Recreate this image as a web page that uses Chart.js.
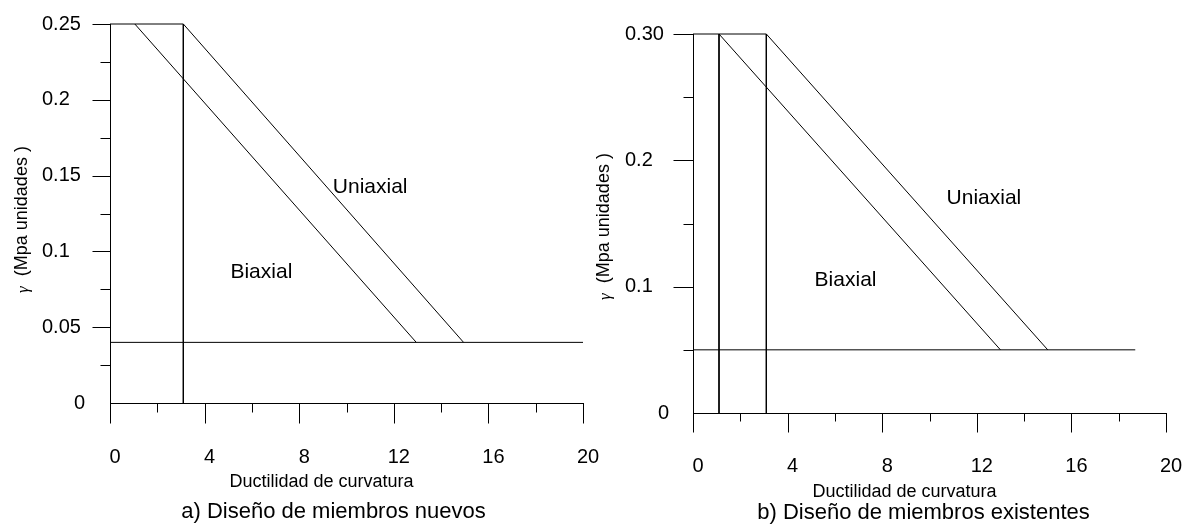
<!DOCTYPE html>
<html>
<head>
<meta charset="utf-8">
<script src="https://cdn.jsdelivr.net/npm/chart.js@4.4.0/dist/chart.umd.min.js"></script>
<style>
  body { margin: 0; background: #fff; width: 1187px; height: 527px; overflow: hidden; position: relative; }
  canvas { position: absolute; top: 0; }
</style>
</head>
<body>
<canvas id="chartA" width="600" height="527" style="left:0"></canvas>
<canvas id="chartB" width="600" height="527" style="left:587px"></canvas>
<script>
// shared x axis
const xTickValues = [0, 4, 8, 12, 16, 20];
const xTickLabels = ['0', '4', '8', '12', '16', '20'];
const xMinorValues = [2, 6, 10, 14, 18];
const xTitle = 'Ductilidad de curvatura';
const yTitleSymbol = 'γ';
const yTitleText = '  (Mpa unidades )';

// a) Diseño de miembros nuevos
const aYLabels = ['0', '0.05', '0.1', '0.15', '0.2', '0.25'];
const aYMajor = [0.05, 0.1, 0.15, 0.2, 0.25];
const aYMinor = [0.025, 0.075, 0.125, 0.175, 0.225];
const aTop = [[0, 0.25], [3.1, 0.25]];
const aVertical = [[3.1, 0.25], [3.1, 0]];
const aBiaxial = [[1.05, 0.25], [12.95, 0.04]];
const aUniaxial = [[3.1, 0.25], [14.95, 0.04]];
const aBase = [[0, 0.04], [20, 0.04]];
const aNotes = [['Biaxial', 6.4, 0.086], ['Uniaxial', 11.0, 0.1425]];

// b) Diseño de miembros existentes
const bYLabels = ['0', '0.1', '0.2', '0.30'];
const bYMajor = [0.1, 0.2, 0.3];
const bYMinor = [0.05, 0.15, 0.25];
const bTop = [[0, 0.3], [3.1, 0.3]];
const bVertical1 = [[1.1, 0.3], [1.1, 0]];
const bVertical2 = [[3.1, 0.3], [3.1, 0]];
const bBiaxial = [[1.1, 0.3], [13.0, 0.05]];
const bUniaxial = [[3.1, 0.3], [15.0, 0.05]];
const bBase = [[0, 0.05], [18.7, 0.05]];
const bNotes = [['Biaxial', 6.45, 0.105], ['Uniaxial', 12.3, 0.17]];

const FONT = '"Liberation Sans", Arial, sans-serif';

// tick marks, notes and titles drawn from the chart's scales
const sketchPlugin = {
  id: 'sketch',
  afterDraw(chart, args, o) {
    const { ctx, chartArea: a, scales: { x, y } } = chart;
    const px = v => Math.round(x.getPixelForValue(v)) + 0.5;
    const py = v => Math.round(y.getPixelForValue(v)) + 0.5;
    ctx.save();
    ctx.strokeStyle = '#000';
    ctx.lineWidth = 1;
    ctx.beginPath();
    const bottom = Math.round(a.bottom) + 0.5;
    const left = Math.round(a.left) + 0.5;
    o.xMajor.forEach(v => { ctx.moveTo(px(v), bottom); ctx.lineTo(px(v), bottom + o.len[0]); });
    o.xMinor.forEach(v => { ctx.moveTo(px(v), bottom); ctx.lineTo(px(v), bottom + o.len[1]); });
    o.yMajor.forEach(v => { ctx.moveTo(left, py(v)); ctx.lineTo(left - o.len[2], py(v)); });
    o.yMinor.forEach(v => { ctx.moveTo(left, py(v)); ctx.lineTo(left - o.len[3], py(v)); });
    ctx.stroke();

    ctx.fillStyle = '#000';
    ctx.textBaseline = 'middle';
    // the "0" label sits flush right, unlike the others
    ctx.textAlign = 'right';
    ctx.font = '20px ' + FONT;
    ctx.fillText(o.zeroLabel, a.left - o.zeroGap, y.getPixelForValue(0));

    ctx.textAlign = 'center';
    ctx.font = '21px ' + FONT;
    o.notes.forEach(([t, vx, vy]) => ctx.fillText(t, x.getPixelForValue(vx), y.getPixelForValue(vy)));

    const midX = (a.left + a.right) / 2;
    const midY = (a.top + a.bottom) / 2;
    ctx.font = '18px ' + FONT;
    ctx.fillText(xTitle, midX + o.xTitle[0], a.bottom + o.xTitle[1]);
    ctx.font = '22px ' + FONT;
    ctx.fillText(o.caption, midX + o.capPos[0], a.bottom + o.capPos[1]);

    ctx.save();
    ctx.translate(a.left + o.yTitle[0], midY + o.yTitle[1]);
    ctx.rotate(-Math.PI / 2);
    ctx.textAlign = 'left';
    const symFont = 'italic 17px "Liberation Serif", serif';
    const txtFont = '18px ' + FONT;
    ctx.font = symFont;
    const w1 = ctx.measureText(yTitleSymbol).width;
    ctx.font = txtFont;
    const w2 = ctx.measureText(yTitleText).width;
    const start = -(w1 + w2) / 2;
    ctx.font = symFont;
    ctx.fillText(yTitleSymbol, start, 2);
    ctx.font = txtFont;
    ctx.fillText(yTitleText, start + w1, 0);
    ctx.restore();
    ctx.restore();
  }
};

function makeChart(id, c) {
  return new Chart(document.getElementById(id), {
    type: 'scatter',
    data: {
      datasets: c.lines.map(l => ({
        data: l.map(([x, y]) => ({ x, y })),
        showLine: true,
        borderColor: '#000',
        borderWidth: 1,
        pointRadius: 0,
        clip: false
      }))
    },
    options: {
      responsive: false,
      animation: false,
      devicePixelRatio: 1,
      layout: { padding: c.padding },
      plugins: {
        legend: { display: false },
        tooltip: { enabled: false },
        sketch: c.sketch
      },
      scales: {
        x: {
          type: 'linear', min: 0, max: 20,
          afterFit: s => { s.height = c.xHeight; },
          // invisible tick marks only push the labels down
          grid: { display: true, drawOnChartArea: false, color: 'rgba(0,0,0,0)', tickColor: 'rgba(0,0,0,0)', tickLength: c.xGap },
          border: { display: true, color: '#000', width: 1 },
          ticks: {
            stepSize: 4, padding: 0, labelOffset: 5, color: '#000',
            font: { family: FONT, size: 20 },
            callback: (v, i) => xTickLabels[i]
          }
        },
        y: {
          type: 'linear', min: 0, max: c.yMax,
          afterFit: s => { s.width = c.yWidth; },
          grid: { display: false, drawTicks: false },
          border: { display: true, color: '#000', width: 1 },
          ticks: {
            stepSize: c.yStep, crossAlign: 'far',
            color: t => (t.tick && t.tick.value === 0 ? 'rgba(0,0,0,0)' : '#000'),
            font: { family: FONT, size: 20 },
            callback: (v, i) => c.yLabels[i]
          }
        }
      }
    },
    plugins: [sketchPlugin]
  });
}

makeChart('chartA', {
  lines: [aTop, aVertical, aBiaxial, aUniaxial, aBase],
  padding: { left: 42, top: 24, right: 17, bottom: 0 },
  xHeight: 124, yWidth: 68, xGap: 42,
  yMax: 0.25, yStep: 0.05, yLabels: aYLabels,
  sketch: {
    xMajor: xTickValues, xMinor: xMinorValues, yMajor: aYMajor, yMinor: aYMinor,
    len: [20, 9, 18, 10], notes: aNotes,
    zeroLabel: aYLabels[0], zeroGap: 25,
    caption: 'a) Diseño de miembros nuevos',
    xTitle: [-25, 79], capPos: [-13, 109], yTitle: [-88, 6]
  }
});

makeChart('chartB', {
  lines: [bTop, bVertical1, bVertical2, bBiaxial, bUniaxial, bBase],
  padding: { left: 38, top: 34, right: 21, bottom: 0 },
  xHeight: 114, yWidth: 68, xGap: 41,
  yMax: 0.3, yStep: 0.1, yLabels: bYLabels,
  sketch: {
    xMajor: xTickValues, xMinor: xMinorValues, yMajor: bYMajor, yMinor: bYMinor,
    len: [19, 8, 20, 10], notes: bNotes,
    zeroLabel: bYLabels[0], zeroGap: 24,
    caption: 'b) Diseño de miembros existentes',
    xTitle: [-25, 79], capPos: [-6, 100], yTitle: [-89, 3]
  }
});
</script>
</body>
</html>
